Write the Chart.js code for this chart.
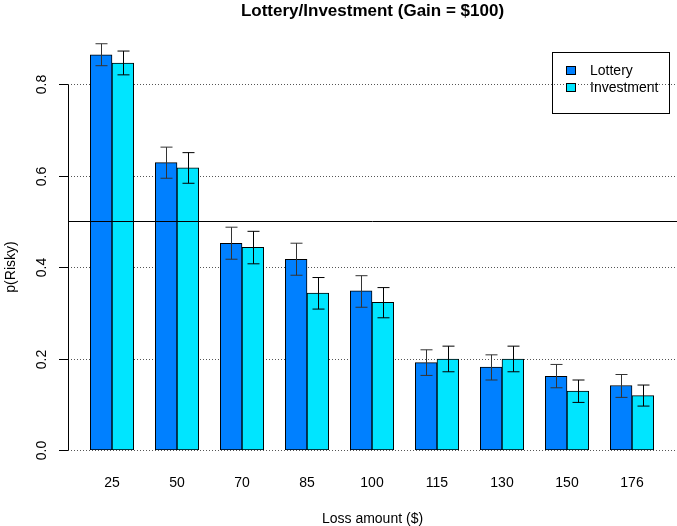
<!DOCTYPE html>
<html lang="en">
<head>
<meta charset="UTF-8">
<title>Lottery/Investment (Gain = $100)</title>
<script src="https://cdn.jsdelivr.net/npm/chart.js"></script>
<style>
  html, body { margin: 0; padding: 0; background: #fff; }
</style>
</head>
<body>
<canvas id="chart" width="677" height="526"></canvas>
<script>
const lossAmounts = ['25', '50', '70', '85', '100', '115', '130', '150', '176'];
const lottery     = [0.864, 0.628, 0.452, 0.417, 0.348, 0.191, 0.181, 0.161, 0.141];
const lotteryLow  = [0.840, 0.594, 0.417, 0.382, 0.312, 0.163, 0.153, 0.136, 0.115];
const lotteryHigh = [0.888, 0.662, 0.487, 0.452, 0.381, 0.219, 0.208, 0.187, 0.165];
const investment     = [0.846, 0.617, 0.443, 0.343, 0.323, 0.199, 0.199, 0.129, 0.119];
const investmentLow  = [0.820, 0.583, 0.407, 0.308, 0.289, 0.171, 0.171, 0.104, 0.096];
const investmentHigh = [0.872, 0.650, 0.478, 0.377, 0.355, 0.227, 0.227, 0.153, 0.142];
const yTicks = [0, 0.2, 0.4, 0.6, 0.8];
const refLine = 0.5;

const FONT = '"Liberation Sans", Arial, Helvetica, sans-serif';
const errLow = [lotteryLow, investmentLow];
const errHigh = [lotteryHigh, investmentHigh];

// R-style extras: axis, dotted grid, error bars, legend, titles
const rStyle = {
    id: 'rStyle',
    beforeDatasetsDraw(chart) {
        const ctx = chart.ctx, y = chart.scales.y, area = chart.chartArea;
        ctx.save();
        ctx.strokeStyle = '#555';
        ctx.lineWidth = 1;
        ctx.setLineDash([1, 2]);
        yTicks.forEach(t => {
            const py = Math.round(y.getPixelForValue(t)) + 0.5;
            ctx.beginPath();
            ctx.moveTo(area.left + 3, py);
            ctx.lineTo(area.right, py);
            ctx.stroke();
        });
        ctx.restore();
    },
    afterDatasetsDraw(chart) {
        const ctx = chart.ctx, y = chart.scales.y, area = chart.chartArea;
        ctx.save();
        // reference line
        ctx.strokeStyle = '#000';
        ctx.lineWidth = 1;
        const py = Math.round(y.getPixelForValue(refLine)) + 0.5;
        ctx.beginPath();
        ctx.moveTo(area.left, py);
        ctx.lineTo(area.right, py);
        ctx.stroke();
        // error bars
        chart.data.datasets.forEach((ds, d) => {
            chart.getDatasetMeta(d).data.forEach((bar, i) => {
                const x = Math.round(bar.x) + 0.5;
                const lo = y.getPixelForValue(errLow[d][i]);
                const hi = y.getPixelForValue(errHigh[d][i]);
                ctx.strokeStyle = d === 0 ? '#333' : '#000';
                ctx.beginPath();
                ctx.moveTo(x, lo); ctx.lineTo(x, hi);
                ctx.moveTo(x - 6, hi); ctx.lineTo(x + 6, hi);
                ctx.moveTo(x - 6, lo); ctx.lineTo(x + 6, lo);
                ctx.stroke();
            });
        });
        ctx.restore();
    },
    afterDraw(chart) {
        const ctx = chart.ctx, y = chart.scales.y, area = chart.chartArea;
        ctx.save();
        // y axis
        ctx.strokeStyle = '#000';
        ctx.lineWidth = 1;
        const top = Math.round(y.getPixelForValue(yTicks[yTicks.length - 1])) + 0.5;
        const bot = Math.round(y.getPixelForValue(yTicks[0])) + 0.5;
        ctx.beginPath();
        ctx.moveTo(area.left + 0.5, top);
        ctx.lineTo(area.left + 0.5, bot);
        ctx.stroke();
        ctx.font = '14px ' + FONT;
        ctx.fillStyle = '#000';
        ctx.textAlign = 'center';
        ctx.textBaseline = 'middle';
        yTicks.forEach(t => {
            const py = Math.round(y.getPixelForValue(t)) + 0.5;
            ctx.beginPath();
            ctx.moveTo(area.left - 9, py);
            ctx.lineTo(area.left + 0.5, py);
            ctx.stroke();
            ctx.save();
            ctx.translate(42, py);
            ctx.rotate(-Math.PI / 2);
            ctx.fillText(t.toFixed(1), 0, 0);
            ctx.restore();
        });
        // y axis title
        ctx.save();
        ctx.translate(11, 267);
        ctx.rotate(-Math.PI / 2);
        ctx.fillText('p(Risky)', 0, 0);
        ctx.restore();
        // main title
        ctx.font = 'bold 17px ' + FONT;
        ctx.fillText('Lottery/Investment (Gain = $100)', (area.left + area.right) / 2, 11);
        // legend
        ctx.strokeStyle = '#000';
        ctx.strokeRect(552.5, 52.5, 117, 61);
        ctx.font = '14px ' + FONT;
        ctx.textAlign = 'left';
        chart.data.datasets.forEach((ds, d) => {
            const cy = 71 + d * 17;
            ctx.fillStyle = ds.backgroundColor;
            ctx.fillRect(566.5, cy - 4.5, 9, 8);
            ctx.strokeRect(566.5, cy - 4.5, 9, 8);
            ctx.fillStyle = '#000';
            ctx.fillText(ds.label, 590, cy);
        });
        ctx.restore();
    }
};

new Chart(document.getElementById('chart'), {
    type: 'bar',
    data: {
        datasets: [{
            label: 'Lottery',
            data: lottery.map((v, i) => ({ x: i, y: v })),
            backgroundColor: '#0080FF',
            borderColor: '#000',
            borderWidth: 1,
            borderSkipped: false,
            barThickness: 21.7
        }, {
            label: 'Investment',
            data: investment.map((v, i) => ({ x: i, y: v })),
            backgroundColor: '#00E5FF',
            borderColor: '#000',
            borderWidth: 1,
            borderSkipped: false,
            barThickness: 21.7
        }]
    },
    options: {
        responsive: false,
        devicePixelRatio: 1,
        animation: false,
        layout: { padding: { left: 68, right: 0, top: 38.25, bottom: 0 } },
        plugins: { legend: { display: false }, tooltip: { enabled: false } },
        scales: {
            x: {
                type: 'linear',
                offset: false,
                min: -44 / 65,
                max: 565 / 65,
                grid: { display: false, drawTicks: false, offset: false },
                border: { display: false },
                afterBuildTicks: ax => { ax.ticks = lossAmounts.map((_, i) => ({ value: i })); },
                afterFit: ax => { ax.height = 76; },
                ticks: {
                    callback: v => lossAmounts[v],
                    font: { size: 14, family: FONT },
                    color: '#000',
                    padding: 25,
                    maxRotation: 0,
                    autoSkip: false
                },
                title: {
                    display: true,
                    text: 'Loss amount ($)',
                    font: { size: 14, family: FONT },
                    color: '#000',
                    padding: { top: 0, bottom: -2 }
                }
            },
            y: {
                display: false,
                min: 0,
                max: 0.9
            }
        }
    },
    plugins: [rStyle]
});
</script>
</body>
</html>
